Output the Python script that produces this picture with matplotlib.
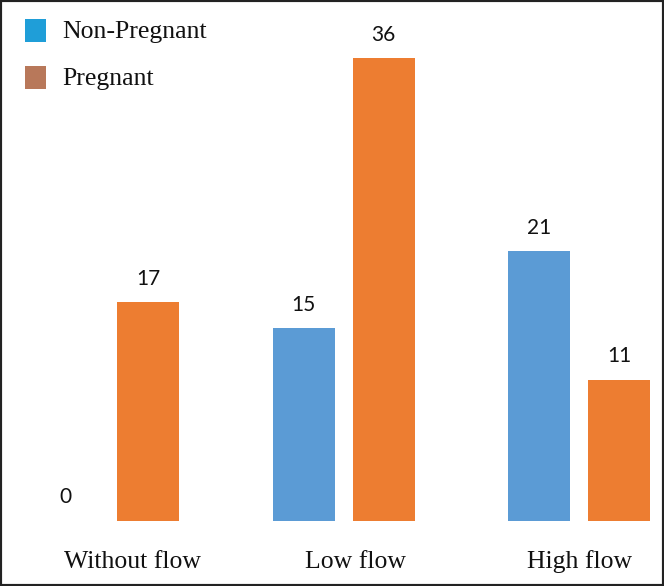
import matplotlib
matplotlib.use("Agg")
import matplotlib.pyplot as plt
from matplotlib.patches import Rectangle
import numpy as np

categories = ["Without flow", "Low flow", "High flow"]
non_pregnant = [0, 15, 21]
pregnant = [17, 36, 11]
legend_labels = ["Non-Pregnant", "Pregnant"]

W, H = 664, 586
fig = plt.figure(figsize=(W / 100, H / 100), dpi=100)
ax = fig.add_axes([0, 0, 1, 1])

# pixel mapping: group center 0 at px 108, spacing 235.5 px; baseline px 521, 12.86 px/unit
x0px, gap = 108, 235.5
ybase, ppu = 521, 12.86
ax.set_xlim(-x0px / gap, (W - x0px) / gap)
ax.set_ylim(-(H - ybase) / ppu, ybase / ppu)
ax.axis("off")

x = np.arange(len(categories))
off = 40 / gap
bw = 62 / gap
blue = "#5B9BD5"
orange = "#ED7D31"
b1 = ax.bar(x - off, non_pregnant, bw, color=blue)
b2 = ax.bar(x + off, pregnant, bw, color=orange)

for rects, vals in ((b1, non_pregnant), (b2, pregnant)):
    for r, v in zip(rects, vals):
        ax.text(r.get_x() + r.get_width() / 2 - (0.01 if v == 0 else 0),
                v + 1.8 if v > 0 else 1.85, str(v),
                ha="center", va="center", fontsize=15, family="Lato", color="#111111")

# category labels sit slightly right of the group centres in the reference
label_shift = [24 / gap, 12 / gap, 1 / gap]
for xi, c, s in zip(x, categories, label_shift):
    ax.text(xi + s, -(562 - ybase) / ppu, c, ha="center", va="center",
            fontsize=18.5, family="Liberation Serif", color="#111111")

# legend
leg_colors = ["#1F9ED8", "#B8785A"]
for i, (lab, col) in enumerate(zip(legend_labels, leg_colors)):
    ytop = 19 + i * 47
    fig.patches.append(Rectangle((25 / W, 1 - (ytop + 23) / H), 21 / W, 23 / H,
                                 transform=fig.transFigure, facecolor=col, edgecolor="none"))
    fig.text(62 / W, 1 - (ytop + 13) / H, lab, ha="left", va="center",
             fontsize=18.5, family="Liberation Serif", color="#111111")

# frame
fig.patches.append(Rectangle((0, 0), 1, 1, transform=fig.transFigure, fill=False,
                             edgecolor="#222222", linewidth=3))

fig.savefig("out.png", dpi=100)
